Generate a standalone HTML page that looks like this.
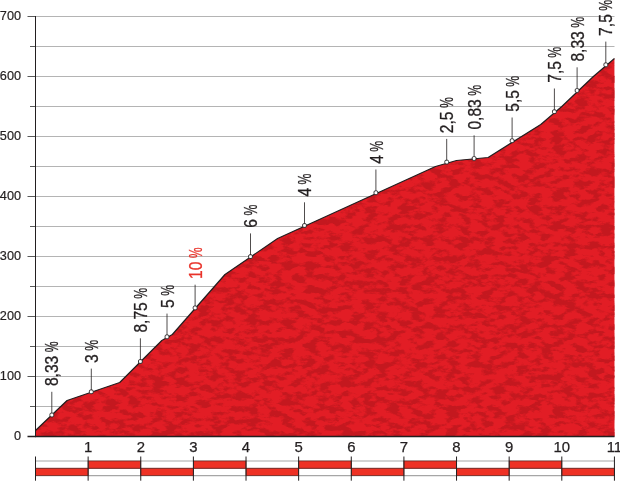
<!DOCTYPE html>
<html><head><meta charset="utf-8"><title>Perfil</title>
<style>
html,body{margin:0;padding:0;background:#fff}
svg{display:block}
text{font-family:"Liberation Sans","DejaVu Sans",sans-serif}
</style></head><body>
<svg width="620" height="485" viewBox="0 0 620 485">
<defs>
<filter id="tex" x="0" y="0" width="100%" height="100%" color-interpolation-filters="sRGB">
<feTurbulence type="fractalNoise" baseFrequency="0.085 0.16" numOctaves="4" seed="7" result="n"/>
<feColorMatrix in="n" type="matrix" values="0 0 0 0 0  0 0 0 0 0  0 0 0 0 0  6 0 0 0 -2.75" result="m"/>
<feFlood flood-color="#c4181f" result="f"/>
<feComposite in="f" in2="m" operator="in" result="d"/>
<feComposite in="d" in2="SourceGraphic" operator="in" result="dd"/>
<feMerge><feMergeNode in="SourceGraphic"/><feMergeNode in="dd"/></feMerge>
</filter>
</defs>
<rect width="620" height="485" fill="#fff"/>

<line x1="35.5" y1="406.5" x2="614.5" y2="406.5" stroke="#b4b4b4" stroke-width="1"/>
<line x1="30" y1="406.5" x2="35.5" y2="406.5" stroke="#5a5a5a" stroke-width="1"/>
<line x1="35.5" y1="376.5" x2="614.5" y2="376.5" stroke="#b4b4b4" stroke-width="1"/>
<line x1="27.5" y1="376.5" x2="35.5" y2="376.5" stroke="#5a5a5a" stroke-width="1"/>
<line x1="35.5" y1="346.5" x2="614.5" y2="346.5" stroke="#b4b4b4" stroke-width="1"/>
<line x1="30" y1="346.5" x2="35.5" y2="346.5" stroke="#5a5a5a" stroke-width="1"/>
<line x1="35.5" y1="316.5" x2="614.5" y2="316.5" stroke="#b4b4b4" stroke-width="1"/>
<line x1="27.5" y1="316.5" x2="35.5" y2="316.5" stroke="#5a5a5a" stroke-width="1"/>
<line x1="35.5" y1="286.5" x2="614.5" y2="286.5" stroke="#b4b4b4" stroke-width="1"/>
<line x1="30" y1="286.5" x2="35.5" y2="286.5" stroke="#5a5a5a" stroke-width="1"/>
<line x1="35.5" y1="256.5" x2="614.5" y2="256.5" stroke="#b4b4b4" stroke-width="1"/>
<line x1="27.5" y1="256.5" x2="35.5" y2="256.5" stroke="#5a5a5a" stroke-width="1"/>
<line x1="35.5" y1="226.5" x2="614.5" y2="226.5" stroke="#b4b4b4" stroke-width="1"/>
<line x1="30" y1="226.5" x2="35.5" y2="226.5" stroke="#5a5a5a" stroke-width="1"/>
<line x1="35.5" y1="196.5" x2="614.5" y2="196.5" stroke="#b4b4b4" stroke-width="1"/>
<line x1="27.5" y1="196.5" x2="35.5" y2="196.5" stroke="#5a5a5a" stroke-width="1"/>
<line x1="35.5" y1="166.5" x2="614.5" y2="166.5" stroke="#b4b4b4" stroke-width="1"/>
<line x1="30" y1="166.5" x2="35.5" y2="166.5" stroke="#5a5a5a" stroke-width="1"/>
<line x1="35.5" y1="136.5" x2="614.5" y2="136.5" stroke="#b4b4b4" stroke-width="1"/>
<line x1="27.5" y1="136.5" x2="35.5" y2="136.5" stroke="#5a5a5a" stroke-width="1"/>
<line x1="35.5" y1="106.5" x2="614.5" y2="106.5" stroke="#b4b4b4" stroke-width="1"/>
<line x1="30" y1="106.5" x2="35.5" y2="106.5" stroke="#5a5a5a" stroke-width="1"/>
<line x1="35.5" y1="76.5" x2="614.5" y2="76.5" stroke="#b4b4b4" stroke-width="1"/>
<line x1="27.5" y1="76.5" x2="35.5" y2="76.5" stroke="#5a5a5a" stroke-width="1"/>
<line x1="35.5" y1="46.5" x2="614.5" y2="46.5" stroke="#b4b4b4" stroke-width="1"/>
<line x1="30" y1="46.5" x2="35.5" y2="46.5" stroke="#5a5a5a" stroke-width="1"/>
<line x1="35.5" y1="16.5" x2="614.5" y2="16.5" stroke="#b4b4b4" stroke-width="1"/>
<line x1="27.5" y1="16.5" x2="35.5" y2="16.5" stroke="#5a5a5a" stroke-width="1"/>
<text x="21" y="439.9" font-size="12.7" text-anchor="end" fill="#231f20" stroke="#231f20" stroke-width="0.2">0</text>
<text x="21" y="379.9" font-size="12.7" text-anchor="end" fill="#231f20" stroke="#231f20" stroke-width="0.2">100</text>
<text x="21" y="319.9" font-size="12.7" text-anchor="end" fill="#231f20" stroke="#231f20" stroke-width="0.2">200</text>
<text x="21" y="259.9" font-size="12.7" text-anchor="end" fill="#231f20" stroke="#231f20" stroke-width="0.2">300</text>
<text x="21" y="199.9" font-size="12.7" text-anchor="end" fill="#231f20" stroke="#231f20" stroke-width="0.2">400</text>
<text x="21" y="139.9" font-size="12.7" text-anchor="end" fill="#231f20" stroke="#231f20" stroke-width="0.2">500</text>
<text x="21" y="79.9" font-size="12.7" text-anchor="end" fill="#231f20" stroke="#231f20" stroke-width="0.2">600</text>
<text x="21" y="19.9" font-size="12.7" text-anchor="end" fill="#231f20" stroke="#231f20" stroke-width="0.2">700</text>
<path d="M35.50,430.50 L67.08,400.50 L119.71,382.50 L161.81,340.50 L172.34,334.50 L224.97,274.50 L277.60,238.50 L330.23,214.50 L435.49,166.50 L456.54,160.50 L488.12,157.50 L540.75,124.50 L561.80,106.50 L593.38,76.50 L614.43,58.50 L614.5,436.5 L35.5,436.5 Z" fill="#e21d25" filter="url(#tex)"/>
<path d="M35.50,430.50 L67.08,400.50 L119.71,382.50 L161.81,340.50 L172.34,334.50 L224.97,274.50 L277.60,238.50 L330.23,214.50 L435.49,166.50 L456.54,160.50 L488.12,157.50 L540.75,124.50 L561.80,106.50 L593.38,76.50 L614.43,58.50" fill="none" stroke="#231f20" stroke-width="1.2" stroke-linejoin="round"/>
<line x1="35.5" y1="16" x2="35.5" y2="437.2" stroke="#231f20" stroke-width="1"/>
<line x1="27.5" y1="436.5" x2="614.5" y2="436.5" stroke="#231f20" stroke-width="1.4"/>
<line x1="51.8" y1="391.8" x2="51.8" y2="415.0" stroke="#231f20" stroke-width="0.8"/>
<rect x="49.9" y="413.1" width="3.8" height="3.8" rx="1.3" fill="#fff" stroke="#231f20" stroke-width="0.9"/>
<g transform="translate(58.4,386.1) rotate(-90)" fill="#231f20" stroke="#231f20" stroke-width="0.3" font-size="18.4"><text transform="scale(0.85,1)" x="0" y="0">8,33</text><text transform="translate(33.8,0) scale(0.66,1)" x="0" y="0">%</text></g>
<line x1="91.3" y1="368.6" x2="91.3" y2="391.8" stroke="#231f20" stroke-width="0.8"/>
<rect x="89.4" y="389.9" width="3.8" height="3.8" rx="1.3" fill="#fff" stroke="#231f20" stroke-width="0.9"/>
<g transform="translate(97.9,362.9) rotate(-90)" fill="#231f20" stroke="#231f20" stroke-width="0.3" font-size="18.4"><text transform="scale(0.85,1)" x="0" y="0">3</text><text transform="translate(12.1,0) scale(0.66,1)" x="0" y="0">%</text></g>
<line x1="140.4" y1="338.3" x2="140.4" y2="361.5" stroke="#231f20" stroke-width="0.8"/>
<rect x="138.5" y="359.6" width="3.8" height="3.8" rx="1.3" fill="#fff" stroke="#231f20" stroke-width="0.9"/>
<g transform="translate(147.0,332.6) rotate(-90)" fill="#231f20" stroke="#231f20" stroke-width="0.3" font-size="18.4"><text transform="scale(0.85,1)" x="0" y="0">8,75</text><text transform="translate(33.8,0) scale(0.66,1)" x="0" y="0">%</text></g>
<line x1="167.0" y1="313.6" x2="167.0" y2="336.8" stroke="#231f20" stroke-width="0.8"/>
<rect x="165.1" y="334.9" width="3.8" height="3.8" rx="1.3" fill="#fff" stroke="#231f20" stroke-width="0.9"/>
<g transform="translate(173.6,307.9) rotate(-90)" fill="#231f20" stroke="#231f20" stroke-width="0.3" font-size="18.4"><text transform="scale(0.85,1)" x="0" y="0">5</text><text transform="translate(12.1,0) scale(0.66,1)" x="0" y="0">%</text></g>
<line x1="195.1" y1="284.7" x2="195.1" y2="307.9" stroke="#231f20" stroke-width="0.8"/>
<rect x="193.2" y="306.0" width="3.8" height="3.8" rx="1.3" fill="#fff" stroke="#231f20" stroke-width="0.9"/>
<g transform="translate(201.7,279.0) rotate(-90)" fill="#e9332a" stroke="#e9332a" stroke-width="0.3" font-size="18.4"><text transform="scale(0.85,1)" x="0" y="0">10</text><text transform="translate(20.8,0) scale(0.66,1)" x="0" y="0">%</text></g>
<line x1="250.5" y1="233.40000000000003" x2="250.5" y2="256.6" stroke="#231f20" stroke-width="0.8"/>
<rect x="248.6" y="254.7" width="3.8" height="3.8" rx="1.3" fill="#fff" stroke="#231f20" stroke-width="0.9"/>
<g transform="translate(257.1,227.7) rotate(-90)" fill="#231f20" stroke="#231f20" stroke-width="0.3" font-size="18.4"><text transform="scale(0.85,1)" x="0" y="0">6</text><text transform="translate(12.1,0) scale(0.66,1)" x="0" y="0">%</text></g>
<line x1="304.5" y1="202.3" x2="304.5" y2="225.5" stroke="#231f20" stroke-width="0.8"/>
<rect x="302.6" y="223.6" width="3.8" height="3.8" rx="1.3" fill="#fff" stroke="#231f20" stroke-width="0.9"/>
<g transform="translate(311.1,196.6) rotate(-90)" fill="#231f20" stroke="#231f20" stroke-width="0.3" font-size="18.4"><text transform="scale(0.85,1)" x="0" y="0">4</text><text transform="translate(12.1,0) scale(0.66,1)" x="0" y="0">%</text></g>
<line x1="375.9" y1="169.5" x2="375.9" y2="192.7" stroke="#231f20" stroke-width="0.8"/>
<rect x="374.0" y="190.8" width="3.8" height="3.8" rx="1.3" fill="#fff" stroke="#231f20" stroke-width="0.9"/>
<g transform="translate(382.5,163.8) rotate(-90)" fill="#231f20" stroke="#231f20" stroke-width="0.3" font-size="18.4"><text transform="scale(0.85,1)" x="0" y="0">4</text><text transform="translate(12.1,0) scale(0.66,1)" x="0" y="0">%</text></g>
<line x1="446.7" y1="138.9" x2="446.7" y2="162.1" stroke="#231f20" stroke-width="0.8"/>
<rect x="444.8" y="160.2" width="3.8" height="3.8" rx="1.3" fill="#fff" stroke="#231f20" stroke-width="0.9"/>
<g transform="translate(453.3,133.2) rotate(-90)" fill="#231f20" stroke="#231f20" stroke-width="0.3" font-size="18.4"><text transform="scale(0.85,1)" x="0" y="0">2,5</text><text transform="translate(25.1,0) scale(0.66,1)" x="0" y="0">%</text></g>
<line x1="474.1" y1="135.3" x2="474.1" y2="158.5" stroke="#231f20" stroke-width="0.8"/>
<rect x="472.2" y="156.6" width="3.8" height="3.8" rx="1.3" fill="#fff" stroke="#231f20" stroke-width="0.9"/>
<g transform="translate(480.7,129.6) rotate(-90)" fill="#231f20" stroke="#231f20" stroke-width="0.3" font-size="18.4"><text transform="scale(0.85,1)" x="0" y="0">0,83</text><text transform="translate(33.8,0) scale(0.66,1)" x="0" y="0">%</text></g>
<line x1="512.1" y1="117.49999999999999" x2="512.1" y2="140.7" stroke="#231f20" stroke-width="0.8"/>
<rect x="510.2" y="138.8" width="3.8" height="3.8" rx="1.3" fill="#fff" stroke="#231f20" stroke-width="0.9"/>
<g transform="translate(518.7,111.8) rotate(-90)" fill="#231f20" stroke="#231f20" stroke-width="0.3" font-size="18.4"><text transform="scale(0.85,1)" x="0" y="0">5,5</text><text transform="translate(25.1,0) scale(0.66,1)" x="0" y="0">%</text></g>
<line x1="554.4" y1="88.5" x2="554.4" y2="111.7" stroke="#231f20" stroke-width="0.8"/>
<rect x="552.5" y="109.8" width="3.8" height="3.8" rx="1.3" fill="#fff" stroke="#231f20" stroke-width="0.9"/>
<g transform="translate(561.0,82.8) rotate(-90)" fill="#231f20" stroke="#231f20" stroke-width="0.3" font-size="18.4"><text transform="scale(0.85,1)" x="0" y="0">7,5</text><text transform="translate(25.1,0) scale(0.66,1)" x="0" y="0">%</text></g>
<line x1="577.1" y1="67.3" x2="577.1" y2="90.5" stroke="#231f20" stroke-width="0.8"/>
<rect x="575.2" y="88.6" width="3.8" height="3.8" rx="1.3" fill="#fff" stroke="#231f20" stroke-width="0.9"/>
<g transform="translate(583.7,61.6) rotate(-90)" fill="#231f20" stroke="#231f20" stroke-width="0.3" font-size="18.4"><text transform="scale(0.85,1)" x="0" y="0">8,33</text><text transform="translate(33.8,0) scale(0.66,1)" x="0" y="0">%</text></g>
<line x1="605.8" y1="41.599999999999994" x2="605.8" y2="64.8" stroke="#231f20" stroke-width="0.8"/>
<rect x="603.9" y="62.9" width="3.8" height="3.8" rx="1.3" fill="#fff" stroke="#231f20" stroke-width="0.9"/>
<g transform="translate(612.4,35.9) rotate(-90)" fill="#231f20" stroke="#231f20" stroke-width="0.3" font-size="18.4"><text transform="scale(0.85,1)" x="0" y="0">7,5</text><text transform="translate(25.1,0) scale(0.66,1)" x="0" y="0">%</text></g>
<text x="88.1" y="452.3" font-size="14.9" text-anchor="middle" fill="#231f20" stroke="#231f20" stroke-width="0.25">1</text>
<text x="140.8" y="452.3" font-size="14.9" text-anchor="middle" fill="#231f20" stroke="#231f20" stroke-width="0.25">2</text>
<text x="193.4" y="452.3" font-size="14.9" text-anchor="middle" fill="#231f20" stroke="#231f20" stroke-width="0.25">3</text>
<text x="246.0" y="452.3" font-size="14.9" text-anchor="middle" fill="#231f20" stroke="#231f20" stroke-width="0.25">4</text>
<text x="298.7" y="452.3" font-size="14.9" text-anchor="middle" fill="#231f20" stroke="#231f20" stroke-width="0.25">5</text>
<text x="351.3" y="452.3" font-size="14.9" text-anchor="middle" fill="#231f20" stroke="#231f20" stroke-width="0.25">6</text>
<text x="403.9" y="452.3" font-size="14.9" text-anchor="middle" fill="#231f20" stroke="#231f20" stroke-width="0.25">7</text>
<text x="456.5" y="452.3" font-size="14.9" text-anchor="middle" fill="#231f20" stroke="#231f20" stroke-width="0.25">8</text>
<text x="509.2" y="452.3" font-size="14.9" text-anchor="middle" fill="#231f20" stroke="#231f20" stroke-width="0.25">9</text>
<text x="561.8" y="452.3" font-size="14.9" text-anchor="middle" fill="#231f20" stroke="#231f20" stroke-width="0.25">10</text>
<text x="614.4" y="452.3" font-size="14.9" text-anchor="middle" fill="#231f20" stroke="#231f20" stroke-width="0.25">11</text>
<line x1="35.5" y1="461" x2="614.4300000000001" y2="461" stroke="#a6a6a6" stroke-width="1.2"/>
<line x1="35.5" y1="475.6" x2="614.4300000000001" y2="475.6" stroke="#a6a6a6" stroke-width="1.2"/>
<rect x="35.50" y="468.3" width="52.63" height="7.30" fill="#ee3124" stroke="#6b2520" stroke-width="0.7"/>
<rect x="88.13" y="461" width="52.63" height="7.30" fill="#ee3124" stroke="#6b2520" stroke-width="0.7"/>
<rect x="140.76" y="468.3" width="52.63" height="7.30" fill="#ee3124" stroke="#6b2520" stroke-width="0.7"/>
<rect x="193.39" y="461" width="52.63" height="7.30" fill="#ee3124" stroke="#6b2520" stroke-width="0.7"/>
<rect x="246.02" y="468.3" width="52.63" height="7.30" fill="#ee3124" stroke="#6b2520" stroke-width="0.7"/>
<rect x="298.65" y="461" width="52.63" height="7.30" fill="#ee3124" stroke="#6b2520" stroke-width="0.7"/>
<rect x="351.28" y="468.3" width="52.63" height="7.30" fill="#ee3124" stroke="#6b2520" stroke-width="0.7"/>
<rect x="403.91" y="461" width="52.63" height="7.30" fill="#ee3124" stroke="#6b2520" stroke-width="0.7"/>
<rect x="456.54" y="468.3" width="52.63" height="7.30" fill="#ee3124" stroke="#6b2520" stroke-width="0.7"/>
<rect x="509.17" y="461" width="52.63" height="7.30" fill="#ee3124" stroke="#6b2520" stroke-width="0.7"/>
<rect x="561.80" y="468.3" width="52.63" height="7.30" fill="#ee3124" stroke="#6b2520" stroke-width="0.7"/>
<line x1="35.5" y1="468.3" x2="614.4300000000001" y2="468.3" stroke="#7a2a24" stroke-width="0.7"/>
<line x1="35.50" y1="456.5" x2="35.50" y2="480.7" stroke="#231f20" stroke-width="1"/>
<line x1="88.13" y1="456.5" x2="88.13" y2="480.7" stroke="#231f20" stroke-width="1"/>
<line x1="140.76" y1="456.5" x2="140.76" y2="480.7" stroke="#231f20" stroke-width="1"/>
<line x1="193.39" y1="456.5" x2="193.39" y2="480.7" stroke="#231f20" stroke-width="1"/>
<line x1="246.02" y1="456.5" x2="246.02" y2="480.7" stroke="#231f20" stroke-width="1"/>
<line x1="298.65" y1="456.5" x2="298.65" y2="480.7" stroke="#231f20" stroke-width="1"/>
<line x1="351.28" y1="456.5" x2="351.28" y2="480.7" stroke="#231f20" stroke-width="1"/>
<line x1="403.91" y1="456.5" x2="403.91" y2="480.7" stroke="#231f20" stroke-width="1"/>
<line x1="456.54" y1="456.5" x2="456.54" y2="480.7" stroke="#231f20" stroke-width="1"/>
<line x1="509.17" y1="456.5" x2="509.17" y2="480.7" stroke="#231f20" stroke-width="1"/>
<line x1="561.80" y1="456.5" x2="561.80" y2="480.7" stroke="#231f20" stroke-width="1"/>
<line x1="614.43" y1="456.5" x2="614.43" y2="480.7" stroke="#231f20" stroke-width="1"/>
</svg></body></html>
